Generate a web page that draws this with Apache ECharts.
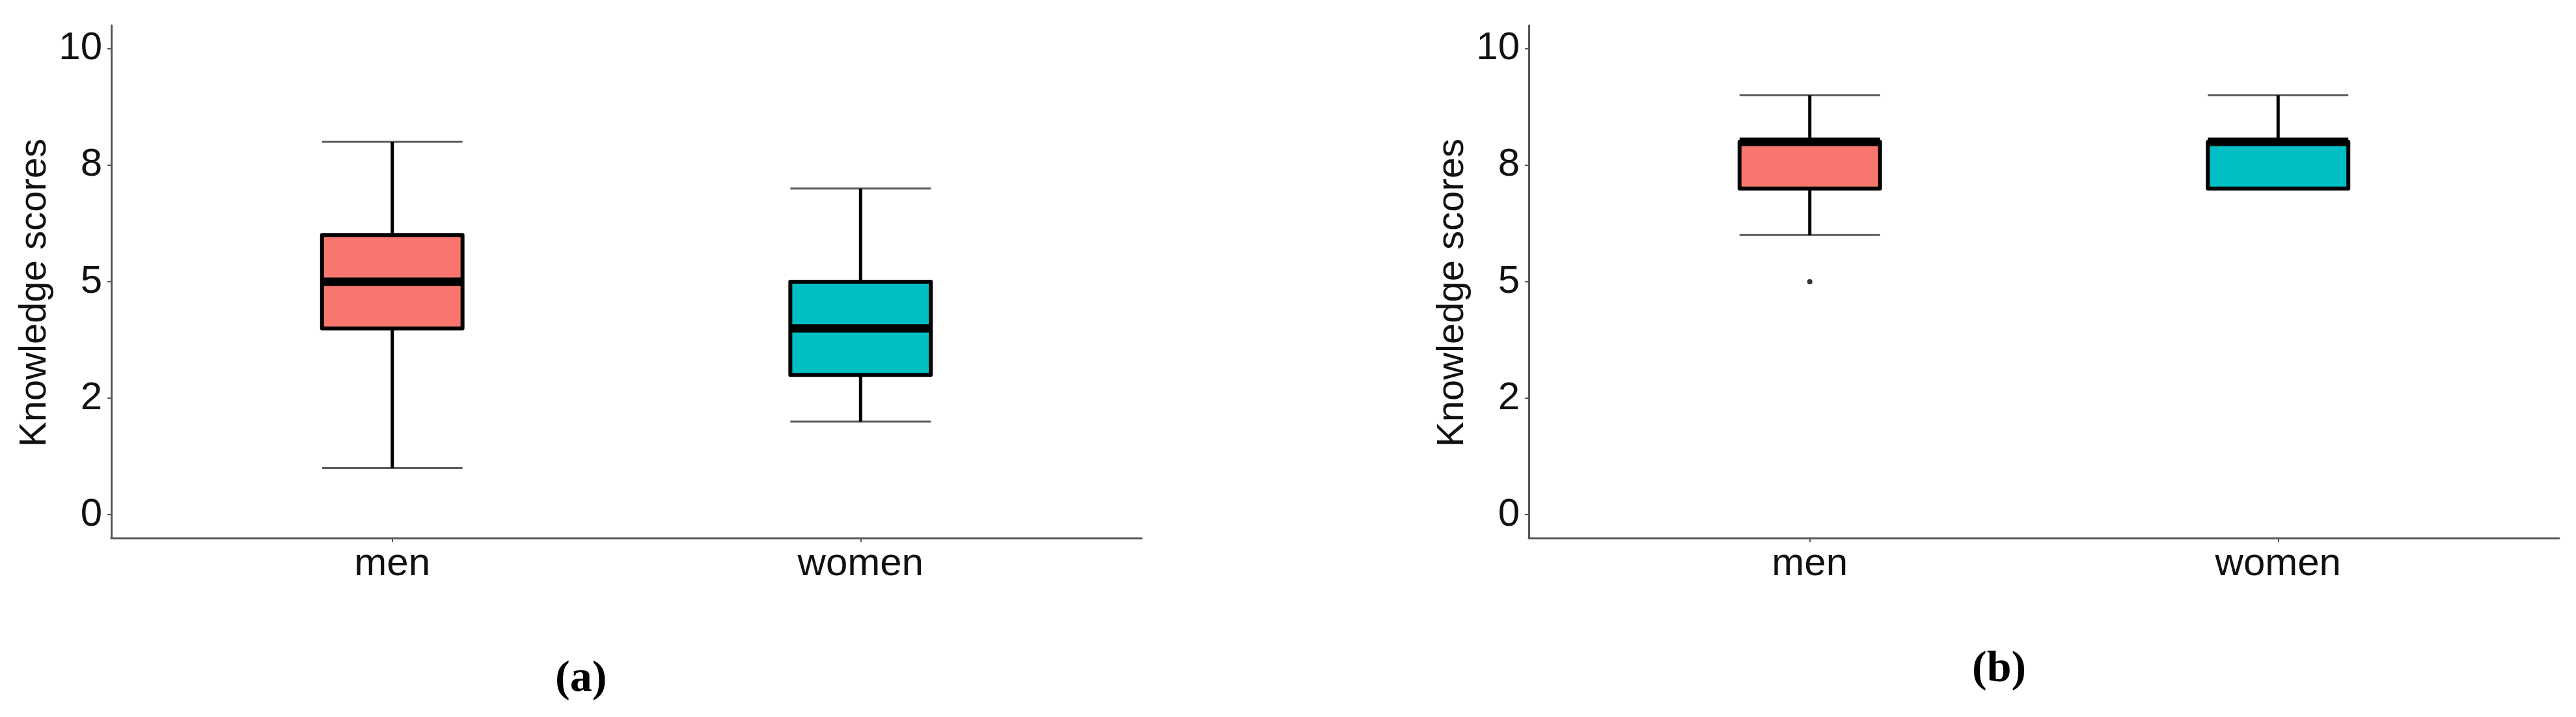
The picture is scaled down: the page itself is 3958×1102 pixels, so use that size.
<!DOCTYPE html>
<html>
<head>
<meta charset="utf-8">
<script src="https://cdn.jsdelivr.net/npm/echarts@6.0.0/dist/echarts.min.js"></script>
<style>
    html, body {margin: 0; padding: 0; background: #fff;}
    #chart {width: 3958px; height: 1102px;}
</style>
</head>
<body>
<div id="chart"></div>
<script>
// groups on the x axis (positions 1 and 2)
const categories = ['men', 'women'];
const groupPos = [1, 2];

// y ticks: ggplot breaks at 0, 2.5, 5, 7.5, 10 printed as rounded numbers
const yTickValues = [0, 2.5, 5, 7.5, 10];
const yTickLabels = ['0', '2', '5', '8', '10'];

// panel (a) five-number summaries
const lowA = [1, 2];
const q1A = [4, 3];
const medA = [5, 4];
const q3A = [6, 5];
const highA = [8, 7];

// panel (b) five-number summaries
const lowB = [6, 7];
const q1B = [7, 7];
const medB = [8, 8];
const q3B = [8, 8];
const highB = [9, 9];
// panel (b) outliers: [group position, value]
const outliersB = [[1, 5]];

const fills = ['#F8766D', '#00BFC4'];
const boxHalf = 0.15;
const font = 'Liberation Sans';

function boxRows(low, q1, med, q3, high) {
    return groupPos.map((x, i) => [x, low[i], q1[i], med[i], q3[i], high[i]]);
}

function renderBox(params, api) {
    const x = api.value(0);
    const low = api.value(1), q1 = api.value(2), med = api.value(3), q3 = api.value(4), high = api.value(5);
    const tl = api.coord([x - boxHalf, q3]);
    const br = api.coord([x + boxHalf, q1]);
    const c = api.coord([x, 0])[0];
    const yLow = api.coord([x, low])[1];
    const yHigh = api.coord([x, high])[1];
    const yMed = api.coord([x, med])[1];
    const black = {stroke: '#000', lineWidth: 5};
    const cap = {stroke: '#5a5a5a', lineWidth: 3};
    const children = [
        {type: 'line', shape: {x1: tl[0], y1: yHigh, x2: br[0], y2: yHigh}, style: cap},
        {type: 'line', shape: {x1: tl[0], y1: yLow, x2: br[0], y2: yLow}, style: cap},
        {type: 'line', shape: {x1: c, y1: yHigh, x2: c, y2: tl[1]}, style: black},
        {type: 'line', shape: {x1: c, y1: br[1], x2: c, y2: yLow}, style: black},
        {
            type: 'rect',
            shape: {x: tl[0], y: tl[1], width: br[0] - tl[0], height: br[1] - tl[1]},
            style: {fill: fills[params.dataIndex], stroke: '#000', lineWidth: 6, lineJoin: 'round'}
        },
        {type: 'line', shape: {x1: tl[0], y1: yMed, x2: br[0], y2: yMed}, style: {stroke: '#000', lineWidth: 13}}
    ];
    return {type: 'group', children: children};
}

function xAxisFor(gridIndex) {
    return {
        type: 'value', gridIndex: gridIndex, min: 0.4, max: 2.6,
        axisLine: {show: true, onZero: false, lineStyle: {color: '#555', width: 3}},
        axisTick: {show: true, customValues: groupPos, length: 6, lineStyle: {color: '#555', width: 2}},
        axisLabel: {
            customValues: groupPos, margin: 10,
            formatter: v => categories[groupPos.indexOf(v)] || '',
            fontFamily: font, fontSize: 60, color: '#111'
        },
        splitLine: {show: false}
    };
}

function yAxisFor(gridIndex) {
    return {
        type: 'value', gridIndex: gridIndex, min: -0.5, max: 10.5,
        name: 'Knowledge scores', nameLocation: 'middle', nameGap: 88, nameRotate: 90,
        nameTextStyle: {fontFamily: font, fontSize: 58, color: '#111', padding: [0, 34, 0, 0]},
        axisLine: {show: true, onZero: false, lineStyle: {color: '#555', width: 3}},
        axisTick: {show: true, customValues: yTickValues, length: 6, lineStyle: {color: '#555', width: 2}},
        axisLabel: {
            customValues: yTickValues, margin: 14,
            formatter: v => yTickLabels[yTickValues.indexOf(v)] || '',
            fontFamily: font, fontSize: 60, color: '#111'
        },
        splitLine: {show: false}
    };
}

const chart = echarts.init(document.getElementById('chart'));
chart.setOption({
    backgroundColor: '#fff',
    animation: false,
    grid: [
        {left: 171, top: 39, width: 1583, height: 788},
        {left: 2349, top: 39, width: 1583, height: 788}
    ],
    xAxis: [xAxisFor(0), xAxisFor(1)],
    yAxis: [yAxisFor(0), yAxisFor(1)],
    series: [
        {
            type: 'custom', xAxisIndex: 0, yAxisIndex: 0,
            renderItem: renderBox, data: boxRows(lowA, q1A, medA, q3A, highA)
        },
        {
            type: 'custom', xAxisIndex: 1, yAxisIndex: 1,
            renderItem: renderBox, data: boxRows(lowB, q1B, medB, q3B, highB)
        },
        {
            type: 'scatter', xAxisIndex: 1, yAxisIndex: 1,
            symbolSize: 8, itemStyle: {color: '#000'}, data: outliersB
        }
    ],
    graphic: [
        {
            type: 'text', left: 853, top: 1010,
            style: {text: '(a)', fontFamily: 'Liberation Serif', fontWeight: 'bold', fontSize: 68, fill: '#000'}
        },
        {
            type: 'text', left: 3030, top: 995,
            style: {text: '(b)', fontFamily: 'Liberation Serif', fontWeight: 'bold', fontSize: 68, fill: '#000'}
        }
    ]
});
</script>
</body>
</html>
